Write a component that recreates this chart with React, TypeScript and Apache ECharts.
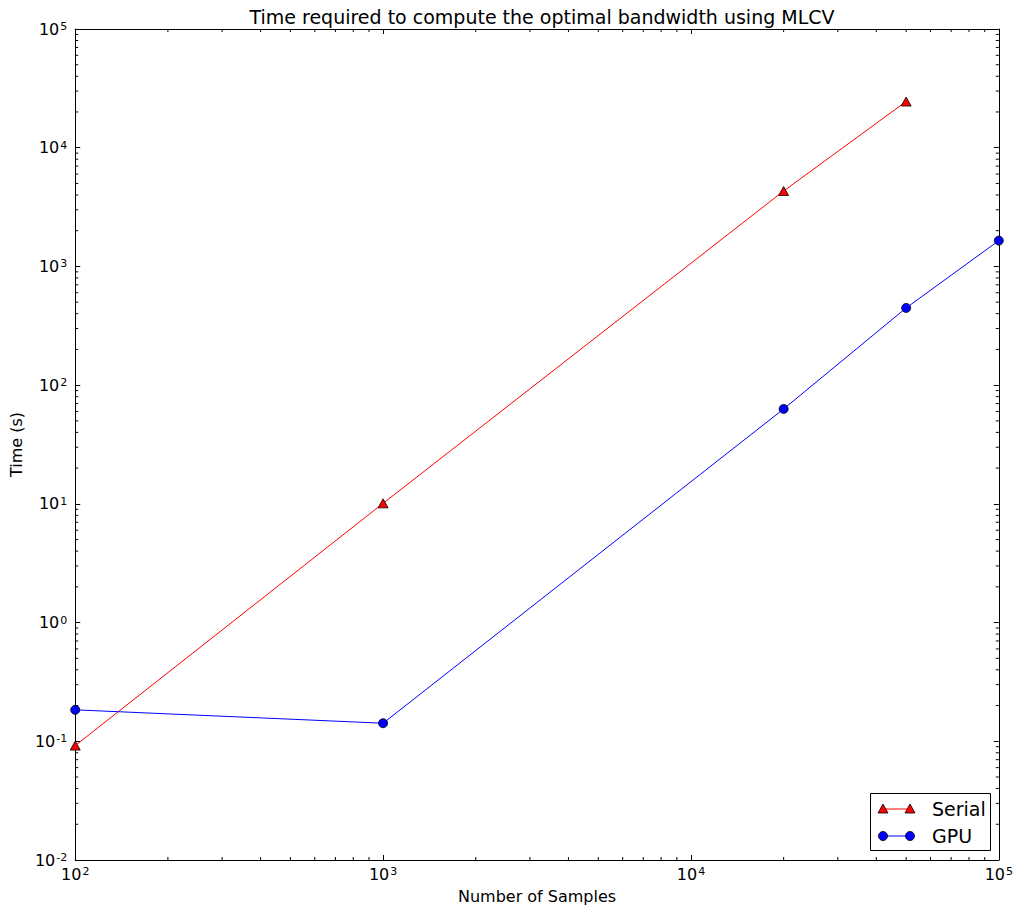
import React, { useEffect, useRef } from "react";
import * as echarts from "echarts";

// ---- data ----
const serialSamples = [100, 1000, 20000, 50000];
const serialTime = [0.092, 10.1, 4320, 24500];
const gpuSamples = [100, 1000, 20000, 50000, 100000];
const gpuTime = [0.184, 0.142, 63, 447, 1650];

const xMin = 100;
const xMax = 100000;
const yMin = 0.01;
const yMax = 100000;

const minorMultipliers = [2, 3, 4, 5, 6, 7, 8, 9];
const xDecades = [100, 1000, 10000];
const yDecades = [0.01, 0.1, 1, 10, 100, 1000, 10000];

const titleText = "Time required to compute the optimal bandwidth using MLCV";
const xName = "Number of Samples";
const yName = "Time (s)";
const seriesNames = ["Serial", "GPU"];

const FONT = "DejaVu Sans";

const xMinor: number[][] = [];
xDecades.forEach((d) => minorMultipliers.forEach((m) => xMinor.push([d * m, yMin])));
const yMinor: number[][] = [];
yDecades.forEach((d) => minorMultipliers.forEach((m) => yMinor.push([xMin, d * m])));

const fmt = (v: number) => {
  const e = Math.round(Math.log10(v));
  return `{b|10}{s|${e}}`;
};

const rich = {
  b: { fontFamily: FONT, fontSize: 16, color: "#000", verticalAlign: "bottom" },
  s: { fontFamily: FONT, fontSize: 11, color: "#000", verticalAlign: "top", padding: [0, 0, 0, 1] },
};

const MINOR = 3;

export default function App() {
  const ref = useRef<HTMLDivElement>(null);
  useEffect(() => {
    if (!ref.current) return;
    const chart = echarts.init(ref.current, undefined, { renderer: "svg" });
    const axisLine = { show: true, lineStyle: { color: "#000", width: 1 } };
    const tick = { show: true, inside: true, length: 5, lineStyle: { color: "#000", width: 1 } };
    const legendX0 = 883;
    const legendX1 = 910;
    const r1 = 809;
    const r2 = 836;
    const tri = (cx: number, cy: number) => [
      [cx - 5, cy + 4],
      [cx + 5, cy + 4],
      [cx, cy - 5],
    ];
    chart.setOption({
      animation: false,
      backgroundColor: "#fff",
      title: {
        text: titleText,
        left: 537,
        textAlign: "center",
        top: 2,
        textStyle: { fontFamily: FONT, fontSize: 19, fontWeight: "normal", color: "#000" },
      },
      grid: { left: 75, right: 16, top: 29, bottom: 52, containLabel: false },
      xAxis: [
        {
          type: "log",
          logBase: 10,
          min: xMin,
          max: xMax,
          position: "bottom",
          axisLine,
          axisTick: tick,
          splitLine: { show: false },
          axisLabel: { formatter: fmt, rich, margin: 6, showMinLabel: true, showMaxLabel: true },
          name: xName,
          nameLocation: "middle",
          nameGap: 28,
          nameTextStyle: { fontFamily: FONT, fontSize: 16, color: "#000" },
        },
        {
          type: "log",
          logBase: 10,
          min: xMin,
          max: xMax,
          position: "top",
          axisLine,
          axisTick: tick,
          splitLine: { show: false },
          axisLabel: { show: false },
        },
      ],
      yAxis: [
        {
          type: "log",
          logBase: 10,
          min: yMin,
          max: yMax,
          position: "left",
          axisLine,
          axisTick: tick,
          splitLine: { show: false },
          axisLabel: { formatter: fmt, rich, margin: 8, showMinLabel: true, showMaxLabel: true },
          name: yName,
          nameLocation: "middle",
          nameGap: 48,
          nameTextStyle: { fontFamily: FONT, fontSize: 16, color: "#000" },
        },
        {
          type: "log",
          logBase: 10,
          min: yMin,
          max: yMax,
          position: "right",
          axisLine,
          axisTick: tick,
          splitLine: { show: false },
          axisLabel: { show: false },
        },
      ],
      series: [
        {
          type: "custom",
          name: "xminor",
          coordinateSystem: "cartesian2d",
          silent: true,
          clip: false,
          data: xMinor,
          renderItem: (params: any, api: any) => {
            const v = api.value(0);
            const b = api.coord([v, yMin]);
            const t = api.coord([v, yMax]);
            const st = { stroke: "#000", lineWidth: 1 };
            return {
              type: "group",
              children: [
                { type: "line", shape: { x1: b[0], y1: b[1], x2: b[0], y2: b[1] - MINOR }, style: st },
                { type: "line", shape: { x1: t[0], y1: t[1], x2: t[0], y2: t[1] + MINOR }, style: st },
              ],
            };
          },
        },
        {
          type: "custom",
          name: "yminor",
          coordinateSystem: "cartesian2d",
          silent: true,
          clip: false,
          data: yMinor,
          renderItem: (params: any, api: any) => {
            const v = api.value(1);
            const l = api.coord([xMin, v]);
            const r = api.coord([xMax, v]);
            const st = { stroke: "#000", lineWidth: 1 };
            return {
              type: "group",
              children: [
                { type: "line", shape: { x1: l[0], y1: l[1], x2: l[0] + MINOR, y2: l[1] }, style: st },
                { type: "line", shape: { x1: r[0], y1: r[1], x2: r[0] - MINOR, y2: r[1] }, style: st },
              ],
            };
          },
        },
        {
          type: "line",
          name: seriesNames[0],
          data: serialSamples.map((x, i) => [x, serialTime[i]]),
          symbol: "triangle",
          symbolSize: [10, 9],
          showAllSymbol: true,
          lineStyle: { color: "#ff0000", width: 1 },
          itemStyle: { color: "#ff0000", borderColor: "#000", borderWidth: 0.8 },
          clip: true,
        },
        {
          type: "line",
          name: seriesNames[1],
          data: gpuSamples.map((x, i) => [x, gpuTime[i]]),
          symbol: "circle",
          symbolSize: 9,
          showAllSymbol: true,
          lineStyle: { color: "#0000ff", width: 1 },
          itemStyle: { color: "#0000ff", borderColor: "#000", borderWidth: 0.8 },
          clip: true,
        },
      ],
      graphic: [
        {
          type: "rect",
          shape: { x: 870.5, y: 793.5, width: 120, height: 57 },
          style: { fill: "#fff", stroke: "#000", lineWidth: 1 },
          z: 100,
        },
        {
          type: "line",
          shape: { x1: legendX0, y1: r1, x2: legendX1, y2: r1 },
          style: { stroke: "#ff0000", lineWidth: 1 },
          z: 101,
        },
        {
          type: "polygon",
          shape: { points: tri(legendX0, r1) },
          style: { fill: "#ff0000", stroke: "#000", lineWidth: 0.8 },
          z: 102,
        },
        {
          type: "polygon",
          shape: { points: tri(legendX1, r1) },
          style: { fill: "#ff0000", stroke: "#000", lineWidth: 0.8 },
          z: 102,
        },
        {
          type: "text",
          x: 932,
          y: r1,
          style: { text: seriesNames[0], fontFamily: FONT, fontSize: 19, fill: "#000", verticalAlign: "middle" },
          z: 102,
        },
        {
          type: "line",
          shape: { x1: legendX0, y1: r2, x2: legendX1, y2: r2 },
          style: { stroke: "#0000ff", lineWidth: 1 },
          z: 101,
        },
        {
          type: "circle",
          shape: { cx: legendX0, cy: r2, r: 4.5 },
          style: { fill: "#0000ff", stroke: "#000", lineWidth: 0.8 },
          z: 102,
        },
        {
          type: "circle",
          shape: { cx: legendX1, cy: r2, r: 4.5 },
          style: { fill: "#0000ff", stroke: "#000", lineWidth: 0.8 },
          z: 102,
        },
        {
          type: "text",
          x: 932,
          y: r2,
          style: { text: seriesNames[1], fontFamily: FONT, fontSize: 19, fill: "#000", verticalAlign: "middle" },
          z: 102,
        },
      ],
    });
    return () => chart.dispose();
  }, []);
  return (
    <div
      ref={ref}
      style={{ position: "fixed", left: 0, top: 0, width: 1016, height: 912, background: "#fff" }}
    />
  );
}
